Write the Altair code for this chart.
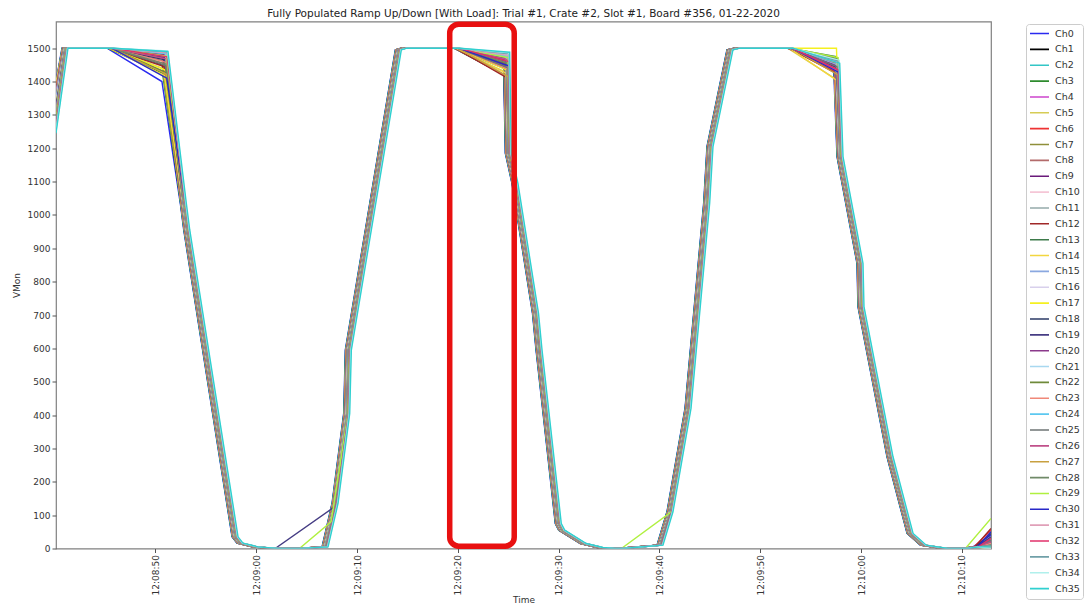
import altair as alt
import pandas as pd

# ---------------- data ----------------
channels = [f"Ch{i}" for i in range(36)]
colors = ["#2a2af0", "#000000", "#33c6c6", "#2e8b2e", "#cc44cc", "#d6cc55", "#ee3333", "#8f8f3a",
          "#b36b6b", "#6a1a7a", "#f5c6d6", "#95aaaa", "#a02828", "#3d7a4a", "#f2d640", "#8aa8e0",
          "#d8d0ec", "#f5f020", "#2b3a66", "#463d84", "#8b3a8b", "#a8d8f0", "#6f8a3a", "#f08878",
          "#5cc8f0", "#6e7474", "#c0508a", "#c8a040", "#708a68", "#b0f040", "#2828c8", "#e0a0b8",
          "#e0306a", "#70a0a8", "#b0f0ec", "#30d0d0"]

# sample times, seconds after 12:08:40
base_t = [0.13, 1.02, 5.49, 10.94, 12.76, 13.10, 17.89, 18.38, 19.87, 21.86, 24.14, 26.82,
          27.81, 28.97, 29.13, 34.09, 34.65, 39.88, 44.84, 45.00, 45.66, 47.70, 48.05, 49.96,
          50.30, 52.44, 54.10, 55.29, 56.08, 60.05, 61.04, 62.83, 64.68, 65.01, 66.99, 67.69,
          72.95, 77.58, 77.91, 79.89, 79.99, 82.87, 84.86, 86.17, 88.33, 90.21, 91.40, 92.89]
# common VMon values (None = per-channel value below)
base_v = [None, 1500, 1500, None, 1035, 955, 35, 16, 5, 0, 0, 5,
          135, 405, 595, 1495, 1500, 1500, None, 1185, 1095, 705, 595, 75,
          55, 15, 3, 0, 0, 10, 110, 420, 1035, 1205, 1495, 1500,
          1500, None, 1175, 855, 725, 275, 45, 10, 0, 0, 5, None]

start_v = [1400, 1395, 1392, 1388, 1385, 1398, 1380, 1376, 1372, 1365, 1360, 1356, 1350, 1345,
           1340, 1352, 1335, 1330, 1325, 1320, 1316, 1310, 1305, 1300, 1296, 1290, 1285, 1293,
           1280, 1276, 1270, 1266, 1262, 1258, 1252, 1245]
droop1 = [1400, 1450, 1490, 1425, 1478, 1440, 1455, 1430, 1462, 1470, 1485, 1488, 1445, 1475,
          1418, 1482, 1490, 1435, 1465, 1472, 1480, 1487, 1428, 1458, 1484, 1448, 1468, 1422,
          1452, 1476, 1410, 1486, 1474, 1489, 1492, 1490]
droop2 = [1440, 1420, 1478, 1450, 1465, 1430, 1455, 1445, 1418, 1460, 1480, 1470, 1413, 1468,
          1425, 1475, 1482, 1435, 1458, 1462, 1448, 1480, 1452, 1438, 1476, 1442, 1466, 1415,
          1456, 1472, 1447, 1478, 1460, 1483, 1486, 1488]
droop3 = [1440, 1450, 1460, 1470, 1445, 1410, 1430, 1455, 1435, 1448, 1462, 1458, 1425, 1475,
          1405, 1452, 1465, 1500, 1442, 1438, 1446, 1463, 1468, 1432, 1459, 1444, 1436, 1420,
          1466, 1472, 1428, 1457, 1434, 1461, 1464, 1455]
end_v = [40, 10, 0, 20, 5, 0, 55, 15, 30, 25, 0, 5, 60, 10, 0, 5, 0, 0, 45, 35, 20, 0, 10, 15,
         0, 25, 20, 5, 10, 90, 50, 0, 30, 10, 0, 5]
# per-channel read delay (s)
offsets = [-0.30, -0.27, -0.28, -0.24, -0.22, -0.23, -0.19, -0.17, -0.18, -0.14, -0.12, -0.13,
           -0.09, -0.08, -0.06, -0.07, -0.03, -0.02, 0.00, 0.01, 0.03, 0.02, 0.06, 0.07,
           0.09, 0.08, 0.12, 0.13, 0.15, 0.14, 0.18, 0.19, 0.21, 0.22, 0.25, 0.30]
# missed samples and extra readings
skip = {19: [10, 11, 12], 29: [11, 12, 29, 46]}
extra = {19: [(28.0, 130)], 29: [(27.42, 80)]}

# highlighted window (red box)
box_t = [39.19, 45.59]
box_v = [7, 1572]

y_ticks = list(range(0, 1501, 100))

title_text = ("Fully Populated Ramp Up/Down [With Load]: Trial #1, Crate #2, Slot #1, "
              "Board #356, 01-22-2020")

t0 = pd.Timestamp("2020-01-22 12:08:40")


def iso(sec):
    return (t0 + pd.Timedelta(seconds=sec)).strftime("%Y-%m-%dT%H:%M:%S.%f")[:-3]


rows = []
last = len(base_t) - 1
for c, name in enumerate(channels):
    vals = list(base_v)
    vals[0] = start_v[c]
    vals[3] = droop1[c]
    vals[18] = droop2[c]
    vals[37] = droop3[c]
    vals[last] = end_v[c]
    pts = []
    for k, (t, v) in enumerate(zip(base_t, vals)):
        if k in skip.get(c, []):
            continue
        tt = t if k in (0, last) else t + offsets[c]
        pts.append((tt, v))
    pts += extra.get(c, [])
    pts.sort()
    for o, (tt, v) in enumerate(pts):
        rows.append({"Channel": name, "order": o, "Time": iso(tt), "VMon": v})
df = pd.DataFrame(rows)

box_df = pd.DataFrame({"t1": [iso(box_t[0])], "t2": [iso(box_t[1])],
                       "v1": [box_v[0]], "v2": [box_v[1]]})
title_df = pd.DataFrame({"label": [title_text]})


def dt(m, s, ms=0):
    return alt.DateTime(year=2020, month=1, date=22, hours=12, minutes=m, seconds=s,
                        milliseconds=ms)


x_domain = [dt(8, 40, 130), dt(10, 12, 890)]
x_ticks = [dt(8, 50), dt(9, 0), dt(9, 10), dt(9, 20), dt(9, 30), dt(9, 40), dt(9, 50),
           dt(10, 0), dt(10, 10)]

FONT = "DejaVu Sans"
W, H = 935, 527

x_scale = alt.Scale(domain=x_domain)
y_scale = alt.Scale(domain=[0, 1580], nice=False)
x_axis = alt.Axis(values=x_ticks, format="%H:%M:%S", labelAngle=270, labelOverlap=False,
                  title="Time", titlePadding=1)
y_axis = alt.Axis(values=y_ticks, format="d", labelOverlap=False, tickCount=16,
                  title="VMon", titlePadding=6)

lines = alt.Chart(df).mark_line(strokeWidth=1.4, clip=True).encode(
    x=alt.X("Time:T", scale=x_scale, axis=x_axis),
    y=alt.Y("VMon:Q", scale=y_scale, axis=y_axis),
    color=alt.Color("Channel:N", scale=alt.Scale(domain=channels, range=colors),
                    legend=alt.Legend(title=None, orient="none", legendX=970, legendY=2.5,
                                      symbolLimit=40, clipHeight=13, rowPadding=2.86,
                                      symbolSize=361, symbolStrokeWidth=1.6,
                                      symbolType="stroke", labelFontSize=9.5,
                                      labelOffset=5, padding=3, strokeColor="#cccccc",
                                      cornerRadius=3, fillColor="white", labelFont=FONT,
                                      labelColor="#333333")),
    order="order:Q",
)

box = alt.Chart(box_df).mark_rect(fill="white", fillOpacity=0, stroke="#e81010",
                                  strokeWidth=5.5, cornerRadius=9).encode(
    x=alt.X("t1:T", scale=x_scale, axis=x_axis), x2="t2:T",
    y=alt.Y("v1:Q", scale=y_scale, axis=y_axis), y2="v2:Q")

title = alt.Chart(title_df).mark_text(font=FONT, fontSize=10.5, color="#222222",
                                      align="center", baseline="alphabetic").encode(
    x=alt.value(W / 2), y=alt.value(-4.8), text="label:N")

chart = alt.layer(lines, box, title).properties(
    width=W, height=H,
    autosize=alt.AutoSizeParams(type="none"),
    padding={"left": 48, "top": 13.5, "right": 93, "bottom": 56.5},
).configure_view(
    stroke="#808080", strokeWidth=1.2
).configure_axis(
    labelFont=FONT, titleFont=FONT, labelFontSize=9, titleFontSize=9,
    titleFontWeight="normal", labelColor="#333333", titleColor="#333333",
    tickColor="#555555", tickSize=4, labelPadding=2, domain=False, grid=False
)

chart.save("out.html", embed_options={"renderer": "svg", "actions": False})
